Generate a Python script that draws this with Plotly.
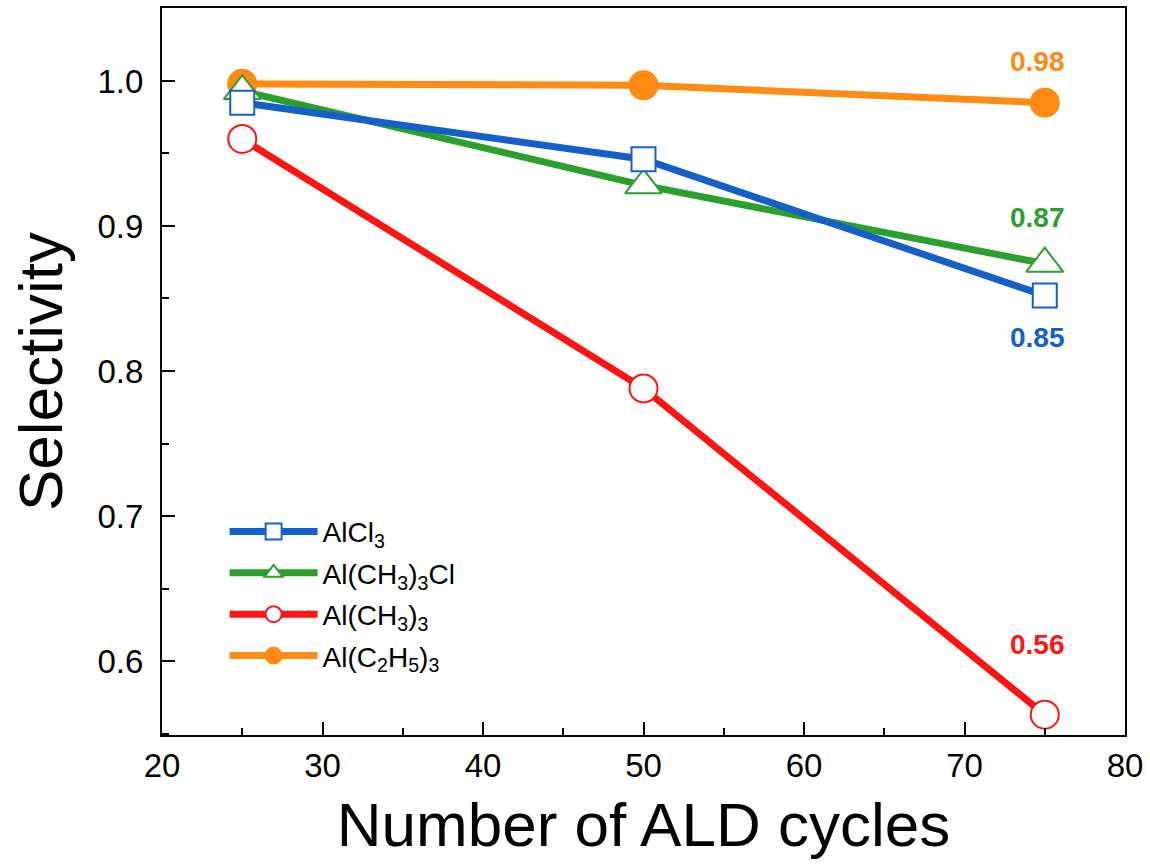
import plotly.graph_objects as go

cycles = [25, 50, 75]
alcl3 = [0.985, 0.946, 0.852]
al_me3cl = [0.993, 0.928, 0.874]
al_me3 = [0.960, 0.788, 0.563]
al_et3 = [0.998, 0.997, 0.985]

names = ["AlCl<sub>3</sub>", "Al(CH<sub>3</sub>)<sub>3</sub>Cl", "Al(CH<sub>3</sub>)<sub>3</sub>",
         "Al(C<sub>2</sub>H<sub>5</sub>)<sub>3</sub>"]
labels = ["0.85", "0.87", "0.56", "0.98"]
colors = ["#1560c8", "#2ca02c", "#ff1414", "#ff8a14"]

FONT = "Arial, Liberation Sans, sans-serif"

fig = go.Figure()

series = [
    (3, al_et3, "circle", False, 28),
    (2, al_me3, "circle", True, 28),
    (1, al_me3cl, "triangle-up", True, 32),
    (0, alcl3, "square", True, 24),
]
for idx, vals, sym, is_open, sz in series:
    col = colors[idx]
    marker = dict(symbol=sym, size=sz, color="white" if is_open else col,
                  line=dict(width=2, color=col))
    fig.add_trace(go.Scatter(
        x=cycles, y=vals, mode="lines+markers", name=names[idx],
        line=dict(color=col, width=7), marker=marker, legendrank=idx + 1,
        legendgroup=str(idx)))

ann_shift = [-42, 46, 70, 41]
ann_vals = [alcl3[-1], al_me3cl[-1], al_me3[-1], al_et3[-1]]
for i in range(4):
    fig.add_annotation(x=cycles[-1], y=ann_vals[i], text="<b>" + labels[i] + "</b>",
                       showarrow=False, yshift=ann_shift[i], xshift=-7,
                       font=dict(family=FONT, size=28, color=colors[i]))

axis_common = dict(
    showline=True, linecolor="black", linewidth=2, mirror=True,
    ticks="inside", ticklen=13, tickwidth=1.5, tickcolor="black",
    showgrid=False, zeroline=False, automargin=False,
    tickfont=dict(family=FONT, size=33, color="black"),
)
fig.update_xaxes(range=[20, 80], dtick=10, tick0=20,
                 minor=dict(ticks="inside", ticklen=7, dtick=5, tickcolor="black", tickwidth=1.5),
                 title=dict(text="Number of ALD cycles", font=dict(family=FONT, size=62, color="black"),
                            standoff=20),
                 ticklabelstandoff=0, **axis_common)
fig.update_yaxes(range=[0.549, 1.0503], dtick=0.1, tick0=0.6, tickformat=".1f",
                 minor=dict(ticks="inside", ticklen=7, dtick=0.05, tickcolor="black", tickwidth=1.5),
                 title=dict(text="Selectivity", font=dict(family=FONT, size=62, color="black"),
                            standoff=15),
                 ticklabelstandoff=10, **axis_common)

fig.update_layout(
    width=1150, height=867,
    margin=dict(l=162, r=25, t=8, b=132),
    plot_bgcolor="white", paper_bgcolor="white",
    showlegend=True,
    legend=dict(x=0.065, y=0.314, xanchor="left", yanchor="top",
                bgcolor="rgba(0,0,0,0)", itemwidth=88, tracegroupgap=2,
                font=dict(family=FONT, size=28, color="black")),
)

fig.write_html("out.html", config={"displayModeBar": False},
               post_script="document.body.style.margin='0';document.body.style.overflow='hidden';")
